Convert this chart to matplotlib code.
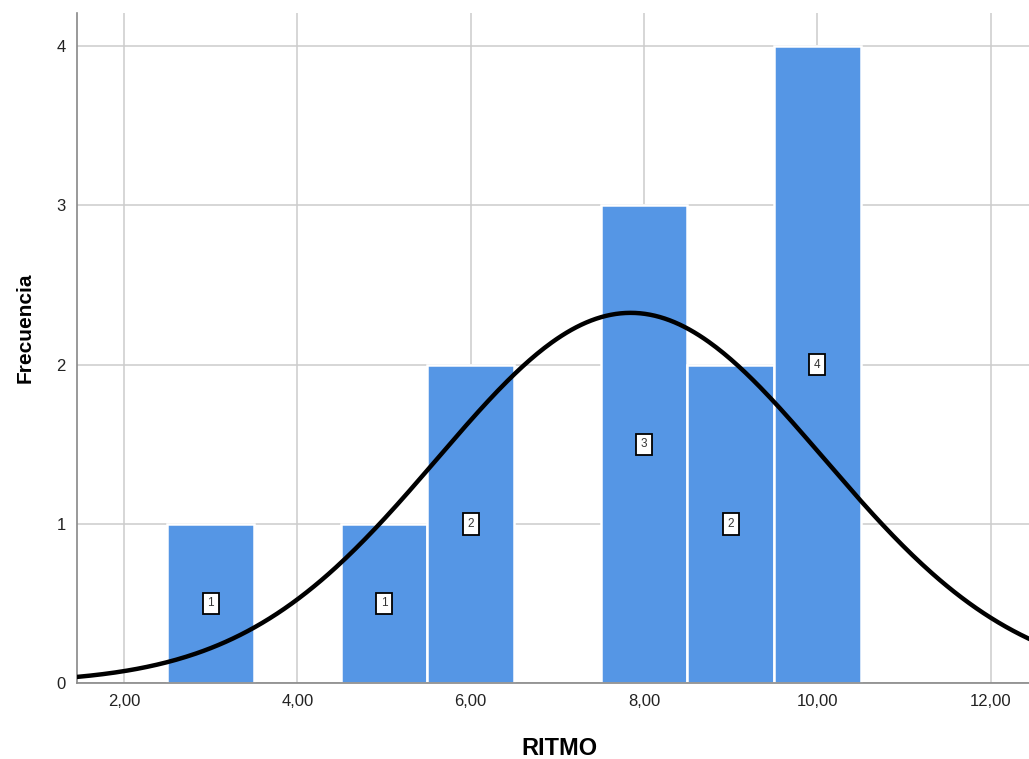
import numpy as np
import matplotlib
matplotlib.use("Agg")
import matplotlib.pyplot as plt

plt.rcParams["font.family"] = ["Liberation Sans", "DejaVu Sans"]

# histogram of RITMO (bin centres, counts)
centres = [3, 5, 6, 8, 9, 10]
counts = [1, 1, 2, 3, 2, 4]
xticks = [2, 4, 6, 8, 10, 12]
xtick_labels = ["2,00", "4,00", "6,00", "8,00", "10,00", "12,00"]
yticks = [0, 1, 2, 3, 4]

# normal curve fitted to the raw values
vals = np.repeat(centres, counts)
mu, sd = vals.mean(), vals.std(ddof=1)
n = len(vals)

fig = plt.figure(figsize=(10.29, 7.59), dpi=100)
ax = fig.add_axes([0.0748, 0.1001, 0.93, 0.883])

ax.bar(centres, counts, width=1.0, color="#5596e5", edgecolor="white", linewidth=1.8, zorder=2)
for c, h in zip(centres, counts):
    ax.text(c, h / 2, str(h), ha="center", va="center", fontsize=8.5, color="#333333", zorder=4,
            bbox=dict(boxstyle="square,pad=0.4", fc="white", ec="black", lw=1.3))

xs = np.linspace(1.3, 12.6, 400)
ys = n * 1.0 / (sd * np.sqrt(2 * np.pi)) * np.exp(-0.5 * ((xs - mu) / sd) ** 2)
ax.plot(xs, ys, color="black", lw=3.2, zorder=3)

ax.set_xlim(1.456, 12.5)
ax.set_ylim(0, 4.21)
ax.set_xticks(xticks)
ax.set_xticklabels(xtick_labels)
ax.set_yticks(yticks)
ax.tick_params(length=0, labelsize=12, pad=8, labelcolor="#222222")
ax.grid(color="#cccccc", lw=1.1, zorder=0)
ax.set_axisbelow(True)
for s in ["top", "right"]:
    ax.spines[s].set_visible(False)
for s in ["left", "bottom"]:
    ax.spines[s].set_color("#888888")
    ax.spines[s].set_linewidth(1.2)

ax.set_xlabel("RITMO", fontsize=17, fontweight="bold", va="center")
ax.xaxis.set_label_coords(0.504, -0.098)
ax.set_ylabel("Frecuencia", fontsize=15, fontweight="bold", va="center")
ax.yaxis.set_label_coords(-0.054, 0.53)

fig.savefig("out.png", dpi=100)
